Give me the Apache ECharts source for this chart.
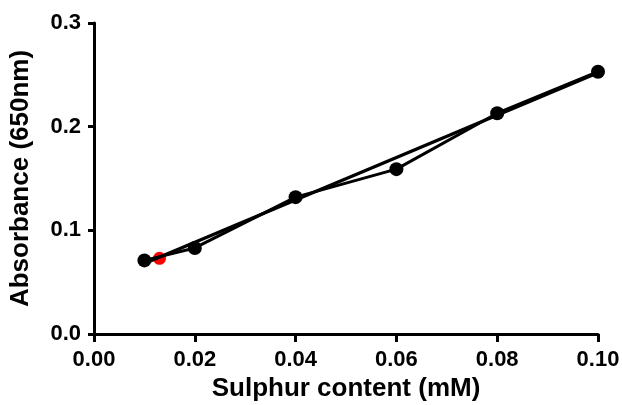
<!DOCTYPE html>
<html>
<head>
<meta charset="utf-8">
<script src="https://cdn.jsdelivr.net/npm/echarts@6/dist/echarts.min.js"></script>
<style>
  html, body { margin: 0; padding: 0; background: #fff; }
  #chart { width: 622px; height: 405px; }
</style>
</head>
<body>
<div id="chart"></div>
<script>
// standards
var sulphur = [0.01, 0.02, 0.04, 0.06, 0.08, 0.10];
var absorb = [0.071, 0.083, 0.132, 0.159, 0.213, 0.253];
// fitted line ends
var fitX = [0.01, 0.10];
var fitY = [0.068, 0.252];
// sample
var sampleX = [0.013];
var sampleY = [0.073];

var xTicks = [0, 0.1];
var yTicks = [0, 0.3];

function pairs(xs, ys) {
    var out = [];
    for (var i = 0; i < xs.length; i++) out.push([xs[i], ys[i]]);
    return out;
}

var font = 'Liberation Sans, Arial, sans-serif';
var myChart = echarts.init(document.getElementById('chart'));
var axisStyle = {
    axisLine: {show: true, onZero: false, lineStyle: {color: '#000', width: 3}},
    splitLine: {show: false},
    nameLocation: 'middle',
    nameTextStyle: {color: '#000', fontFamily: font, fontWeight: 'bold', fontSize: 26}
};
var option = {
    animation: false,
    grid: {left: 94, right: 24, top: 23, bottom: 71, outerBoundsMode: 'none'},
    xAxis: Object.assign({
        type: 'value',
        min: xTicks[0], max: xTicks[1], interval: 0.02,
        name: 'Sulphur content (mM)',
        nameGap: 40,
        axisLabel: {color: '#000', fontFamily: font, fontWeight: 'bold', fontSize: 22, margin: 15,
            formatter: function (v) { return v.toFixed(2); }},
        axisTick: {show: true, length: 8, lineStyle: {color: '#000', width: 3}}
    }, axisStyle),
    yAxis: Object.assign({
        type: 'value',
        min: yTicks[0], max: yTicks[1], interval: 0.1,
        name: 'Absorbance (650nm)',
        nameGap: 60,
        axisLabel: {color: '#000', fontFamily: font, fontWeight: 'bold', fontSize: 22, margin: 13,
            formatter: function (v) { return v.toFixed(1); }},
        axisTick: {show: true, length: 6, lineStyle: {color: '#000', width: 3}}
    }, axisStyle),
    series: [
        {
            type: 'scatter',
            data: pairs(sampleX, sampleY),
            symbolSize: 13,
            itemStyle: {color: '#ff0000', opacity: 1},
            z: 1
        },
        {
            type: 'line',
            data: pairs(sulphur, absorb),
            symbol: 'circle',
            symbolSize: 14,
            itemStyle: {color: '#000'},
            lineStyle: {color: '#000', width: 3},
            z: 2
        },
        {
            type: 'line',
            data: pairs(fitX, fitY),
            symbol: 'none',
            lineStyle: {color: '#000', width: 3.5},
            z: 3
        }
    ]
};
myChart.setOption(option);
</script>
</body>
</html>
